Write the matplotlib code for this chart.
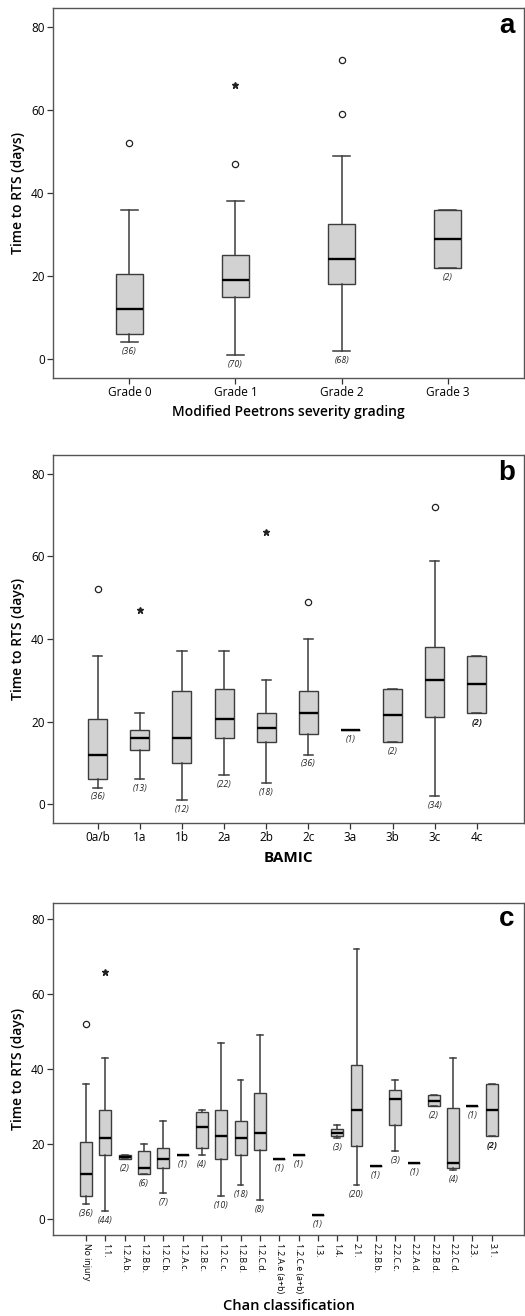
import matplotlib
matplotlib.use("Agg")
import matplotlib.pyplot as plt

plt.rcParams['font.family'] = ['Open Sans', 'DejaVu Sans']

W, H = 525, 1316

# (a) Modified Peetrons severity grading
grade_cats = ["Grade 0", "Grade 1", "Grade 2", "Grade 3"]
grade_lo = [4, 1, 2, 22]
grade_q1 = [6, 15, 18, 22]
grade_med = [12, 19, 24, 29]
grade_q3 = [20.5, 25, 32.5, 36]
grade_hi = [36, 38, 49, 36]
grade_n = [36, 70, 68, 2]
grade_circles = [(0, 52), (1, 47), (2, 59), (2, 72)]
grade_stars = [(1, 66)]
grade_bold = []

# (b) BAMIC
bamic_cats = ["0a/b", "1a", "1b", "2a", "2b", "2c", "3a", "3b", "3c", "4c"]
bamic_lo = [4, 6, 1, 7, 5, 12, 18, 15, 2, 22]
bamic_q1 = [6, 13, 10, 16, 15, 17, 18, 15, 21, 22]
bamic_med = [12, 16, 16, 20.5, 18.5, 22, 18, 21.5, 30, 29]
bamic_q3 = [20.5, 18, 27.5, 28, 22, 27.5, 18, 28, 38, 36]
bamic_hi = [36, 22, 37, 37, 30, 40, 18, 28, 59, 36]
bamic_n = [36, 13, 12, 22, 18, 36, 1, 2, 34, 2]
bamic_circles = [(0, 52), (5, 49), (8, 72)]
bamic_stars = [(1, 47), (4, 66)]
bamic_bold = [9]

# (c) Chan classification
chan_cats = ["No injury", "1.1.", "1.2.A.b.", "1.2.B.b.", "1.2.C.b.", "1.2.A.c.",
             "1.2.B.c.", "1.2.C.c.", "1.2.B.d.", "1.2.C.d.", "1.2.A.e (a+b)",
             "1.2.C.e (a+b)", "1.3.", "1.4.", "2.1.", "2.2.B.b.", "2.2.C.c.",
             "2.2.A.d.", "2.2.B.d.", "2.2.C.d.", "2.3.", "3.1."]
chan_lo = [4, 2, 16, 12, 7, 17, 17, 6, 9, 5, 16, 17, 1, 21.5, 9, 14, 18, 15, 30, 13, 30, 22]
chan_q1 = [6, 17, 16, 12, 13.5, 17, 19, 16, 17, 18.5, 16, 17, 1, 22, 19.5, 14, 25, 15, 30, 13.5, 30, 22]
chan_med = [12, 21.5, 16.5, 13.5, 16, 17, 24.5, 22, 21.5, 23, 16, 17, 1, 23, 29, 14, 32, 15, 31.5, 15, 30, 29]
chan_q3 = [20.5, 29, 17, 18, 19, 17, 28.5, 29, 26, 33.5, 16, 17, 1, 24, 41, 14, 34.5, 15, 33, 29.5, 30, 36]
chan_hi = [36, 43, 17, 20, 26, 17, 29, 47, 37, 49, 16, 17, 1, 25, 72, 14, 37, 15, 33, 43, 30, 36]
chan_n = [36, 44, 2, 6, 7, 1, 4, 10, 18, 8, 1, 1, 1, 3, 20, 1, 3, 1, 2, 4, 1, 2]
chan_circles = [(0, 52)]
chan_stars = [(1, 66)]
chan_bold = [21]


def px_axes(fig, left, top, right, bottom):
    return fig.add_axes([left / W, 1 - bottom / H, (right - left) / W, (bottom - top) / H])


def draw_panel(ax, cats, lo, q1, med, q3, hi, n, circles, stars, bold, width, capw,
               xlim, ylim, letter, tick_fs=8.5, rot=0):
    stats = []
    for i in range(len(cats)):
        stats.append(dict(med=med[i], q1=q1[i], q3=q3[i], whislo=lo[i],
                          whishi=hi[i], fliers=[]))
    ax.bxp(stats, positions=range(len(cats)), widths=width, capwidths=capw,
           patch_artist=True, showfliers=False, manage_ticks=False,
           boxprops=dict(facecolor='#d2d2d2', edgecolor='#3c3c3c', linewidth=1.0),
           medianprops=dict(color='black', linewidth=1.7),
           whiskerprops=dict(color='#3c3c3c', linewidth=1.1),
           capprops=dict(color='#3c3c3c', linewidth=1.1))
    for i, cnt in enumerate(n):
        ax.annotate(f"({cnt})", (i, lo[i]), xytext=(0, -6.8), textcoords='offset points',
                    ha='center', va='center', fontsize=6.3, style='italic',
                    fontweight='bold' if i in bold else 'normal', color='#222222')
    if circles:
        ax.plot([c[0] for c in circles], [c[1] for c in circles], 'o', mfc='white',
                mec='#222222', ms=4.5, mew=0.9)
    if stars:
        ax.plot([s[0] for s in stars], [s[1] for s in stars], '*', color='#222222', ms=4.5)
    ax.set_xlim(*xlim)
    ax.set_ylim(*ylim)
    ax.set_yticks([0, 20, 40, 60, 80])
    ax.set_xticks(range(len(cats)))
    ax.set_xticklabels(cats, rotation=rot, fontsize=tick_fs,
                       va='top', ha='center')
    ax.tick_params(axis='y', labelsize=8.5, length=4, width=0.9, color='#333333', pad=2)
    ax.tick_params(axis='x', length=4, width=0.9, color='#333333', pad=2)
    for sp in ax.spines.values():
        sp.set_color('#555555')
        sp.set_linewidth(1.0)
    ax.text(0.964, 0.951, letter, transform=ax.transAxes, ha='center', va='center',
            fontsize=20, fontweight='bold', family='Liberation Sans')


fig = plt.figure(figsize=(W / 100, H / 100), dpi=100)

ax_a = px_axes(fig, 53, 8, 524, 378)
draw_panel(ax_a, grade_cats, grade_lo, grade_q1, grade_med, grade_q3, grade_hi, grade_n,
           grade_circles, grade_stars, grade_bold, 0.25, 0.16,
           (-0.72, 3.72), (-4.6, 84.6), "a")

ax_b = px_axes(fig, 53, 455, 524, 823)
draw_panel(ax_b, bamic_cats, bamic_lo, bamic_q1, bamic_med, bamic_q3, bamic_hi, bamic_n,
           bamic_circles, bamic_stars, bamic_bold, 0.45, 0.22,
           (-1.06, 10.12), (-4.6, 84.6), "b")

ax_c = px_axes(fig, 53, 903, 524, 1235)
draw_panel(ax_c, chan_cats, chan_lo, chan_q1, chan_med, chan_q3, chan_hi, chan_n,
           chan_circles, chan_stars, chan_bold, 0.62, 0.3,
           (-1.71, 22.67), (-4.3, 84.3), "c", tick_fs=6.3, rot=-90)

# axis titles
for top, bottom in [(8, 378), (455, 823), (903, 1235)]:
    fig.text(18 / W, 1 - (top + bottom) / 2 / H, "Time to RTS (days)", rotation=90,
             ha='center', va='center', fontsize=10, fontweight='semibold')
xc = (53 + 524) / 2 / W
fig.text(xc, 1 - 412 / H, "Modified Peetrons severity grading", ha='center', va='center',
         fontsize=10, fontweight='semibold')
fig.text(xc, 1 - 858 / H, "BAMIC", ha='center', va='center', fontsize=11, fontweight='bold')
fig.text(xc, 1 - 1306 / H, "Chan classification", ha='center', va='center',
         fontsize=10.5, fontweight='semibold')

fig.savefig("out.png", dpi=100)
